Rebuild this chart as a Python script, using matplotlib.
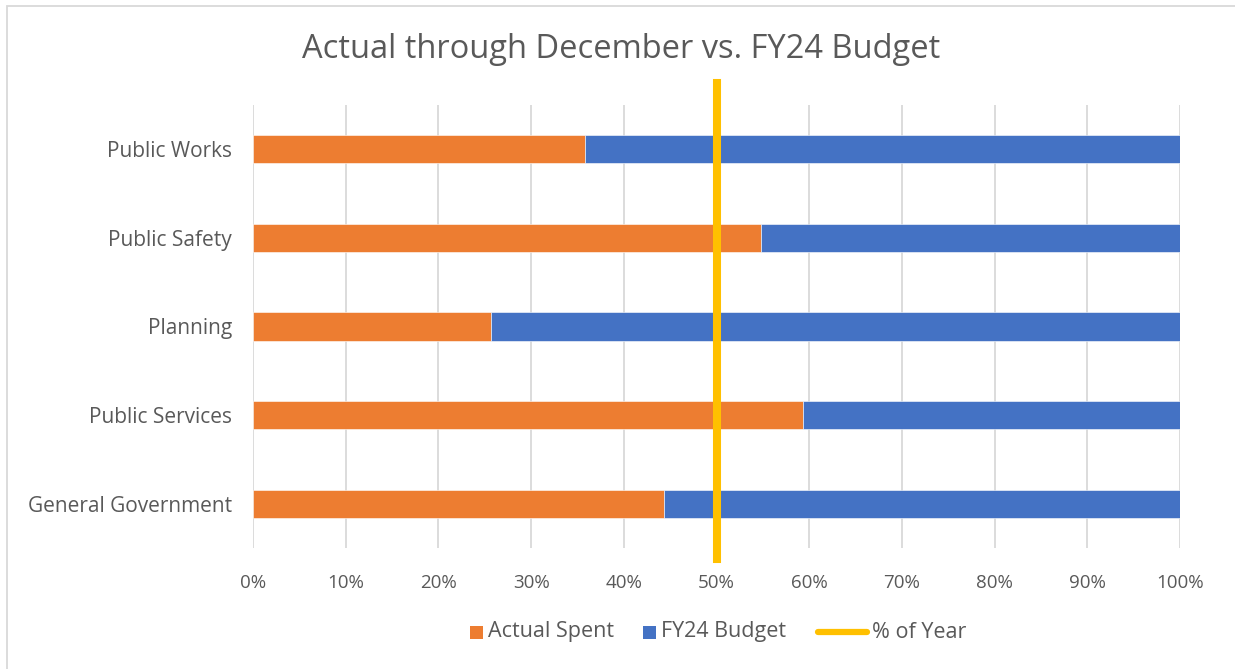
import matplotlib
matplotlib.use("Agg")
import matplotlib.pyplot as plt
from matplotlib.patches import Rectangle
from matplotlib.lines import Line2D
from matplotlib.ticker import PercentFormatter

categories = ["General Government", "Public Services", "Planning", "Public Safety", "Public Works"]
actual_spent = [44.3, 59.3, 25.7, 54.8, 35.8]
budget_remaining = [55.7, 40.7, 74.3, 45.2, 64.2]
pct_of_year = 50.0
xticks = [0, 10, 20, 30, 40, 50, 60, 70, 80, 90, 100]
legend_labels = ["Actual Spent", "FY24 Budget", "% of Year"]

ORANGE = "#ED7D31"
BLUE = "#4472C4"
YELLOW = "#FFC000"
TEXT = "#595959"
GRID = "#D9D9D9"

plt.rcParams['font.family'] = ['Open Sans', 'DejaVu Sans']

W, H = 1235, 669
fig = plt.figure(figsize=(W / 100, H / 100), dpi=100)
ax = fig.add_axes([253 / W, 1 - 548 / H, (1180 - 253) / W, (548 - 105) / H])

y = list(range(len(categories)))
ax.barh(y, actual_spent, height=0.32, color=ORANGE, edgecolor="white", linewidth=0.4, zorder=2)
ax.barh(y, budget_remaining, left=actual_spent, height=0.32, color=BLUE, edgecolor="white", linewidth=0.4, zorder=2)
ax.axvline(pct_of_year, ymin=-11 / 443, ymax=1 + 22 / 443, color=YELLOW, linewidth=5.8, clip_on=False, zorder=3)

ax.set_xlim(0, 100)
ax.set_ylim(-0.5, len(categories) - 0.5)
ax.set_xticks(xticks)
ax.xaxis.set_major_formatter(PercentFormatter(decimals=0))
ax.set_yticks(y)
ax.set_yticklabels(categories)
ax.grid(axis="x", color=GRID, linewidth=1.3, zorder=0)
ax.set_axisbelow(True)
for s in ax.spines.values():
    s.set_visible(False)
ax.tick_params(axis="both", length=0, colors=TEXT)
ax.tick_params(axis="x", pad=19, labelsize=13.5)
ax.tick_params(axis="y", pad=15, labelsize=15)

fig.text(621 / W, 1 - 50 / H, "Actual through December vs. FY24 Budget", ha="center", va="center",
         fontsize=23.5, color=TEXT)

# manual legend (pixel layout)
renderer = fig.canvas.get_renderer()
ly = 1 - 632 / H
px = lambda v: v / W
x = 470.0
handle_kinds = ["square", "square", "line"]
handle_colors = [ORANGE, BLUE, YELLOW]
for kind, col, lab in zip(handle_kinds, handle_colors, legend_labels):
    if kind == "square":
        fig.add_artist(Rectangle((px(x), 1 - 639 / H), px(13), 13 / H, transform=fig.transFigure,
                                 color=col, linewidth=0))
        x += 13 + 5
    else:
        fig.add_artist(Line2D([px(x + 3), px(x + 52)], [ly, ly], transform=fig.transFigure,
                              color=col, linewidth=4.5, solid_capstyle="round"))
        x += 55 + 2
    t = fig.text(px(x), ly, lab, ha="left", va="center", fontsize=15.5, color=TEXT)
    bb = t.get_window_extent(renderer=renderer)
    x += bb.width + 29

fig.add_artist(Rectangle((7 / W, -0.1), 1.2, 1 - 6 / H + 0.1, transform=fig.transFigure,
                         fill=False, edgecolor=GRID, linewidth=1.3))

fig.savefig("out.png", dpi=100)
